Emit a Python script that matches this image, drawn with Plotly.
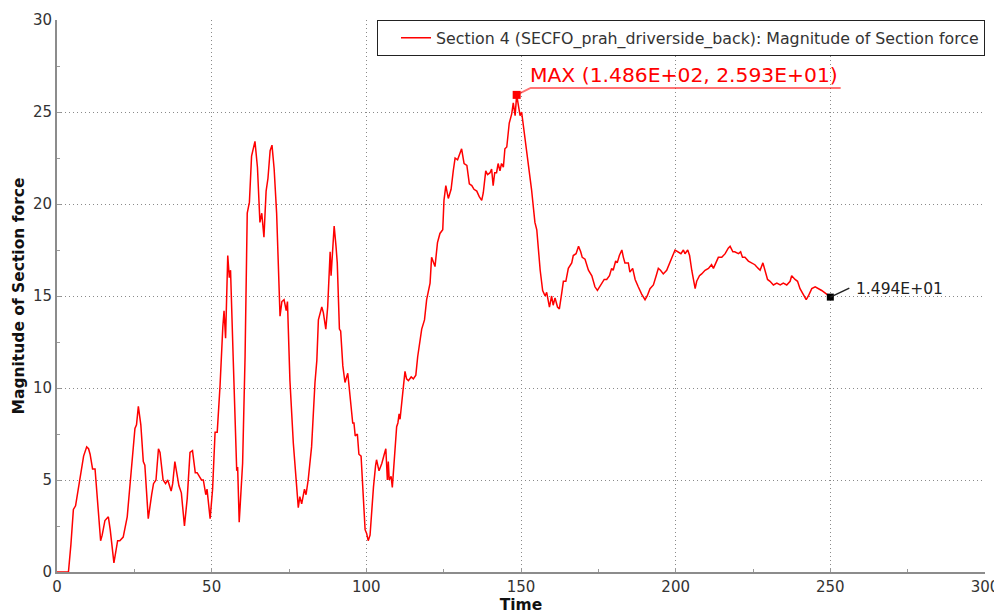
import plotly.graph_objects as go

time = [0, 3.7, 4.5, 5.3, 6.0, 6.7, 7.4, 8.0, 8.6, 9.6, 10.2, 10.7, 11.5, 12.3, 13.0, 14.1, 14.6, 15.5, 16.6, 17.2,
        18.4, 19.0, 19.6, 20.3, 21.4, 22.7, 23.8, 25.2, 25.7, 26.3, 27.1, 27.9, 28.4, 29.0, 29.5, 30.6, 31.2, 32.0,
        32.8, 33.3, 34.3, 35.1, 35.8, 36.9, 37.4, 38.1, 38.9, 39.4, 40.2, 41.2, 42.1, 43.0, 43.8, 44.3, 44.7, 45.3,
        45.9, 46.7, 47.3, 48.1, 48.5, 49.5, 50.3, 51.1, 51.8, 52.7, 53.6, 54.0, 54.5, 55.2, 55.7, 56.1, 57.0, 57.5,
        58.1, 58.4, 58.9, 60.0, 60.8, 61.5, 62.2, 62.9, 63.3, 64.0, 64.8, 65.6, 66.2, 66.9, 67.6, 68.2, 68.9, 69.5,
        70.2, 71.0, 72.1, 72.7, 73.4, 74.1, 74.5, 75.3, 76.4, 77.5, 78.0, 78.5, 79.1, 80.0, 80.5, 81.2, 82.3, 83.4,
        84.0, 84.5, 85.6, 86.1, 86.9, 87.5, 88.3, 88.6, 89.0, 89.6, 90.2, 90.6, 91.3, 91.7, 92.4, 93.1, 94.0, 94.7,
        95.6, 96.0, 96.4, 97.1, 97.6, 98.3, 99.0, 99.6, 100.1, 100.6, 101.2, 101.7, 102.3, 103.0, 103.3, 104.1,
        105.0, 105.8, 106.3, 106.8, 107.1, 107.4, 108.0, 108.4, 108.7, 109.3, 109.8, 110.2, 110.6, 110.9, 111.4,
        112.0, 112.5, 113.0, 113.6, 114.5, 115.2, 116.0, 116.6, 117.4, 117.9, 118.8, 119.2, 119.5, 120.6, 121.1,
        122.2, 123.0, 123.8, 124.7, 125.1, 125.7, 126.5, 127.4, 128.1, 128.7, 129.5, 130.0, 130.8, 131.6, 132.5,
        133.3, 134.1, 134.8, 135.7, 136.5, 137.3, 137.8, 138.6, 139.2, 140.0, 140.5, 141.0, 141.5, 142.1, 142.6,
        143.2, 143.7, 144.3, 144.8, 145.4, 146.2, 147.0, 147.5, 148.1, 148.6, 149.1, 149.7, 150.2, 151.0, 151.9,
        152.4, 153.1, 153.4, 154.5, 155.1, 156.2, 157.0, 157.8, 158.3, 159.2, 159.9, 160.4, 161.0, 161.8, 162.4,
        163.2, 163.7, 164.5, 165.3, 166.4, 166.9, 167.8, 168.6, 169.3, 169.8, 170.7, 171.8, 172.9, 173.9, 174.7,
        175.8, 176.9, 177.7, 178.6, 179.3, 179.8, 180.6, 181.1, 181.8, 182.6, 183.1, 183.6, 184.7, 185.2, 186.1,
        186.9, 187.9, 189.0, 190.1, 190.8, 191.7, 192.8, 193.7, 194.4, 195.1, 196.0, 197.1, 198.2, 199.3, 199.8,
        200.9, 201.7, 202.5, 203.0, 203.9, 204.5, 205.2, 206.3, 206.8, 207.7, 208.4, 209.5, 210.6, 211.6, 212.2,
        213.1, 213.8, 214.9, 216.0, 217.0, 217.6, 218.5, 219.1, 220.3, 221.0, 221.6, 222.4, 223.5, 224.6, 225.6,
        226.7, 227.3, 228.2, 228.9, 229.7, 230.5, 231.6, 232.7, 233.8, 234.8, 235.9, 237.0, 237.5, 238.6, 239.4,
        240.2, 241.1, 242.2, 242.9, 244.0, 245.1, 246.2, 247.2, 248.8, 250.0]

force = [0, 0, 1.5, 3.4, 3.6, 4.3, 5.2, 5.6, 6.3, 6.8, 6.7, 6.4, 5.6, 5.6, 4.0, 1.7, 2.0, 2.8, 3.0, 2.3,
         0.5, 1.0, 1.7, 1.7, 1.9, 3.0, 5.2, 7.8, 8.0, 9.0, 8.0, 6.0, 5.8, 4.0, 2.9, 4.2, 4.8, 5.0,
         6.7, 6.5, 5.0, 4.8, 5.0, 4.4, 4.8, 6.0, 5.2, 4.7, 4.3, 2.5, 4.0, 6.5, 6.6, 5.8, 5.4, 5.4,
         5.2, 5.0, 5.0, 4.2, 4.5, 2.9, 4.5, 7.6, 7.6, 10.1, 13.3, 14.2, 12.7, 17.2, 16.0, 16.4, 11.4, 8.1,
         5.5, 5.7, 2.7, 5.9, 11.7, 19.5, 20.1, 22.6, 22.9, 23.4, 22.0, 19.0, 19.5, 18.2, 20.7, 21.4, 22.9, 23.2,
         21.9, 19.5, 13.9, 14.7, 14.8, 14.2, 14.7, 10.4, 7.0, 4.8, 3.5, 4.1, 3.7, 4.5, 4.2, 5.0, 6.8, 10.3,
         11.5, 13.7, 14.4, 14.1, 13.2, 14.4, 17.4, 16.1, 17.3, 18.8, 17.7, 16.8, 13.2, 13.1, 11.2, 10.3, 10.8, 9.5,
         8.1, 8.1, 7.4, 7.5, 6.4, 6.3, 4.3, 2.3, 2.1, 1.7, 2.0, 3.5, 4.6, 5.8, 6.1, 5.5,
         5.9, 6.4, 6.7, 5.0, 6.0, 5.0, 5.2, 4.6, 5.3, 6.6, 7.9, 8.1, 8.6, 8.3, 9.3,
         10.1, 10.9, 10.5, 10.4, 10.6, 10.5, 10.7, 11.7, 12.6, 13.2, 13.7, 14.3, 14.8, 15.7, 17.1,
         16.6, 17.9, 18.4, 18.6, 20.2, 21.0, 20.3, 20.8, 21.8, 22.5, 22.4, 22.6, 23.0, 22.2, 22.1,
         21.1, 21.0, 20.8, 20.7, 20.4, 20.2, 20.6, 21.8, 21.6, 21.7, 21.9, 21.0, 21.7, 21.7, 22.2,
         21.8, 22.2, 22.0, 23.0, 23.1, 24.4, 24.9, 25.5, 24.8, 25.93, 25.4, 24.8, 25.0, 24.0, 22.6,
         22.2, 21.3, 20.8, 19.0, 18.6, 16.4, 15.3, 15.0, 15.2, 14.4, 15.0, 14.5, 14.9, 14.4, 14.3,
         15.2, 15.8, 15.8, 16.5, 16.8, 17.2, 17.3, 17.7, 17.4, 17.1, 17.0, 16.4, 16.1, 15.5, 15.3,
         15.6, 15.9, 15.9, 16.1, 16.5, 16.4, 16.9, 16.8, 17.2, 17.5, 17.1, 16.8, 16.8, 16.3, 16.5,
         15.9, 15.5, 15.1, 14.8, 15.0, 15.4, 15.6, 16.1, 16.5, 16.4, 16.2, 16.4, 16.9, 17.3, 17.5,
         17.4, 17.3, 17.5, 17.3, 17.5, 17.2, 16.4, 15.4, 15.8, 16.1, 16.2, 16.4, 16.5, 16.7, 16.5,
         16.8, 17.1, 17.1, 17.3, 17.6, 17.7, 17.4, 17.4, 17.3, 17.4, 17.1, 17.1, 16.9, 16.8, 16.7,
         16.5, 16.4, 16.8, 16.4, 15.9, 15.8, 15.6, 15.7, 15.6, 15.7, 15.6, 15.8, 16.1, 15.9, 15.8,
         15.4, 15.1, 14.8, 15.0, 15.4, 15.5, 15.4, 15.3, 15.1, 14.94]

series_name = "Section 4 (SECFO_prah_driverside_back): Magnitude of Section force"
max_time = 148.6
max_value = 25.93
end_time = 250.0
end_value = 14.94
x_ticks = [0, 50, 100, 150, 200, 250, 300]
y_ticks = [0, 5, 10, 15, 20, 25, 30]

FONT = "DejaVu Sans"

fig = go.Figure()
fig.add_trace(go.Scatter(x=time, y=force, mode="lines", name=series_name,
                         line=dict(color="#ff0000", width=1.5)))
fig.add_trace(go.Scatter(x=[max_time], y=[max_value], mode="markers", showlegend=False,
                         marker=dict(symbol="square", size=8, color="#ff0000")))
fig.add_trace(go.Scatter(x=[end_time], y=[end_value], mode="markers", showlegend=False,
                         marker=dict(symbol="square", size=7, color="#000000")))

# leader lines (pixel offsets anchored on the data points)
fig.add_shape(type="path", xref="x", yref="y", xsizemode="pixel", ysizemode="pixel",
              xanchor=max_time, yanchor=max_value,
              path="M 0 0 L 14 7 L 324 7", line=dict(color="rgba(255,0,0,0.55)", width=2))
fig.add_shape(type="path", xref="x", yref="y", xsizemode="pixel", ysizemode="pixel",
              xanchor=end_time, yanchor=end_value,
              path="M 0 0 L 19 9", line=dict(color="#222222", width=1.5))

fig.add_annotation(x=max_time, y=max_value, xref="x", yref="y", showarrow=False,
                   text=f"MAX ({max_time:.3E}, {max_value:.3E})",
                   xanchor="left", yanchor="bottom", xshift=11, yshift=6,
                   font=dict(family=FONT, size=20.3, color="#ff0000"))
fig.add_annotation(x=end_time, y=end_value, xref="x", yref="y", showarrow=False,
                   text=f"{end_value:.3E}",
                   xanchor="left", yanchor="middle", xshift=24, yshift=8,
                   font=dict(family=FONT, size=15.5, color="#222222"))

axis_common = dict(
    showline=True, linecolor="#8c8c8c", linewidth=2,
    showgrid=True, gridcolor="#8a8a8a", griddash="1px,3px", gridwidth=1,
    zeroline=False, ticks="inside", ticklen=4, tickcolor="#9a9a9a",
    tickfont=dict(family=FONT, size=15, color="#333333"),
    mirror=False, automargin=False,
)

fig.update_xaxes(range=[0, 300], tickvals=x_ticks,
                 minor=dict(dtick=25, ticks="inside", ticklen=3, tickcolor="#9a9a9a", showgrid=False),
                 title=dict(text="<b>Time</b>", font=dict(family=FONT, size=15.5, color="#111111"), standoff=4),
                 **axis_common)
fig.update_yaxes(range=[0, 30], tickvals=y_ticks,
                 minor=dict(dtick=2.5, ticks="inside", ticklen=3, tickcolor="#9a9a9a", showgrid=False),
                 title=dict(text="<b>Magnitude of Section force</b>", font=dict(family=FONT, size=15.5, color="#111111"), standoff=4),
                 **axis_common)

# the page body adds an 8px offset, so margins are set to land the plot area where the reference has it
fig.update_layout(
    width=1002, height=612,
    margin=dict(l=49, r=25, t=12, b=48),
    paper_bgcolor="white", plot_bgcolor="white",
    font=dict(family=FONT, color="#333333"),
    legend=dict(x=1, y=1, xanchor="right", yanchor="top",
                bordercolor="#222222", borderwidth=1, bgcolor="white",
                indentation=18,
                font=dict(family=FONT, size=15.8, color="#333333")),
)

fig.write_html("out.html")
